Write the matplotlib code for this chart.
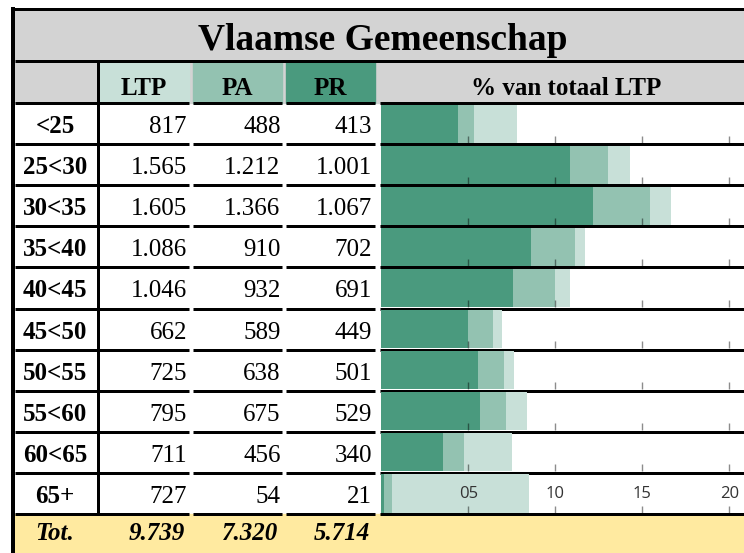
import matplotlib
matplotlib.use("Agg")
import matplotlib.pyplot as plt
from matplotlib.patches import Rectangle

# data
title = "Vlaamse Gemeenschap"
columns = ["LTP", "PA", "PR"]
bar_header = "% van totaal LTP"
age_groups = ["<25", "25<30", "30<35", "35<40", "40<45", "45<50", "50<55", "55<60", "60<65", "65+"]
ltp = [817, 1565, 1605, 1086, 1046, 662, 725, 795, 711, 727]
pa = [488, 1212, 1366, 910, 932, 589, 638, 675, 456, 54]
pr = [413, 1001, 1067, 702, 691, 449, 501, 529, 340, 21]
totals = [9739, 7320, 5714]
# bar lengths (% van totaal LTP)
ltp_pct = [7.82, 14.28, 16.63, 11.71, 10.85, 6.95, 7.64, 8.37, 7.51, 8.51]
pa_pct = [5.31, 13.03, 15.44, 11.13, 10.0, 6.42, 7.03, 7.18, 4.77, 0.6]
pr_pct = [4.43, 10.83, 12.15, 8.58, 7.57, 5.0, 5.56, 5.67, 3.55, 0.16]
ticks = [5, 10, 15, 20]
tick_labels = ["05", "10", "15", "20"]

c_ltp = "#c8e0d8"
c_pa = "#93c2b1"
c_pr = "#4a9a7e"
c_grey = "#d3d3d3"
c_tot = "#ffeaa0"
serif = "Liberation Serif"

W, H = 744, 553


def fmt(v):
    return "{:,}".format(v).replace(",", ".")


fig = plt.figure(figsize=(W / 100, H / 100), dpi=100)
bg = fig.add_axes([0, 0, 1, 1])
bg.set_xlim(0, W)
bg.set_ylim(H, 0)
bg.axis("off")

lw = 3 * 0.72  # 3 px lines
row_lines = [103 + i * 41.1 for i in range(11)]
segs = [(15, 189), (193, 282), (286, 375), (380, W)]

# title row + header row backgrounds
bg.add_patch(Rectangle((15, 9), W - 15, 53, color=c_grey, zorder=0))
bg.add_patch(Rectangle((15, 62), W - 15, 41, color=c_grey, zorder=0))
for (x0, x1), c in zip(segs[:3], [c_ltp, c_pa, c_pr]):
    x0 = max(x0, 99)
    bg.add_patch(Rectangle((x0, 62), x1 - x0, 41, color=c, zorder=0.5))
# totals row
bg.add_patch(Rectangle((15, row_lines[-1]), W - 15, H - row_lines[-1], color=c_tot, zorder=0))

# borders and lines
bg.plot([11, W], [8.5, 8.5], color="k", lw=lw, solid_capstyle="butt")
bg.plot([13, 13], [7, H], color="k", lw=4 * 0.72, solid_capstyle="butt")
bg.plot([15, W], [61, 61], color="k", lw=lw, solid_capstyle="butt")
bg.plot([97.5, 97.5], [61, row_lines[-1]], color="k", lw=lw, solid_capstyle="butt")
for y in row_lines:
    for x0, x1 in segs:
        bg.plot([x0, x1], [y, y], color="k", lw=lw, solid_capstyle="butt", zorder=5)

# title and headers
bg.text(383, 50, title, ha="center", va="baseline", fontsize=27, fontweight="bold", family=serif)
for name, xc in zip(columns, [143.5, 237, 330]):
    bg.text(xc, 95, name, ha="center", va="baseline", fontsize=18, fontweight="bold", family=serif)
bg.text(566, 95, bar_header, ha="center", va="baseline", fontsize=18, fontweight="bold", family=serif)

# table body
right_x = [187, 280.5, 372]
for i, grp in enumerate(age_groups):
    yb = (row_lines[i] + row_lines[i + 1]) / 2 + 9.5
    bg.text(55, yb, grp, ha="center", va="baseline", fontsize=18, fontweight="bold", family=serif)
    for xr, vals in zip(right_x, [ltp, pa, pr]):
        bg.text(xr, yb, fmt(vals[i]), ha="right", va="baseline", fontsize=18, family=serif)

bg.text(55, 540, "Tot.", ha="center", va="baseline", fontsize=18, fontweight="bold",
        style="italic", family=serif)
for xr, v in zip([185, 278, 370], totals):
    bg.text(xr, 540, fmt(v), ha="right", va="baseline", fontsize=18, fontweight="bold",
            style="italic", family=serif)

# bars, one small axes per row
x_left = 381.3
px_per_unit = 17.4
for i in range(len(age_groups)):
    top = row_lines[i] + 1.5
    bot = row_lines[i + 1] - 1.5
    ax = fig.add_axes([x_left / W, 1 - bot / H, (W - x_left) / W, (bot - top) / H])
    ax.set_facecolor("none")
    ax.barh(0, ltp_pct[i], height=1, color=c_ltp)
    ax.barh(0, pa_pct[i], height=1, color=c_pa)
    ax.barh(0, pr_pct[i], height=1, color=c_pr)
    ax.set_xlim(0, (W - x_left) / px_per_unit)
    ax.set_ylim(-0.5, 0.5)
    for s in ax.spines.values():
        s.set_visible(False)
    ax.set_yticks([])
    ax.set_xticks(ticks)
    ax.set_xticklabels(tick_labels, family="Open Sans", fontsize=12, color="#333333")
    ax.tick_params(axis="x", direction="in", length=5, width=1, color=(0, 0, 0, 0.45),
                   pad=-19, labelbottom=(i == len(age_groups) - 1))

fig.savefig("out.png", dpi=100)
